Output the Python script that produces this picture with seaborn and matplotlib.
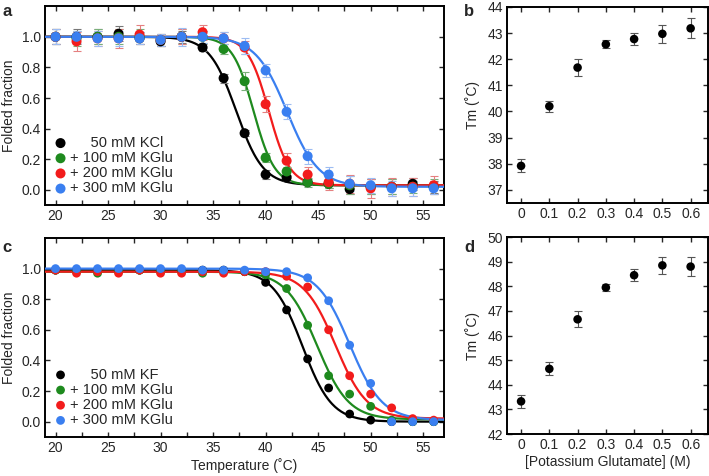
import numpy as np
import pandas as pd
import matplotlib
matplotlib.use('Agg')
import matplotlib.pyplot as plt
from matplotlib.ticker import MultipleLocator
import seaborn as sns

# Temperatures sampled (deg C)
temps = [20, 22, 24, 26, 28, 30, 32, 34, 36, 38, 40, 42, 44, 46, 48, 50, 52, 54, 56]

# Panel a: folded fraction, KCl background
a_labels = ['     50 mM KCl', '+ 100 mM KGlu', '+ 200 mM KGlu', '+ 300 mM KGlu']
a_black = [1.00, 1.00, 1.00, 1.02, 0.99, 0.97, 1.00, 0.93, 0.73, 0.37, 0.10, 0.08, 0.05, 0.04, 0.005, 0.02, 0.02, 0.04, 0.02]
a_green = [1.00, 0.99, 1.00, 1.00, 1.00, 0.98, 1.00, 1.00, 0.92, 0.71, 0.21, 0.12, 0.05, 0.04, 0.03, 0.02, 0.02, 0.02, 0.02]
a_red = [1.00, 0.97, 0.99, 0.99, 1.015, 0.98, 1.00, 1.03, 0.99, 0.93, 0.56, 0.19, 0.10, 0.05, 0.04, 0.01, 0.02, 0.02, 0.03]
a_blue = [1.00, 1.00, 0.99, 0.99, 0.99, 0.98, 1.00, 1.00, 0.99, 0.94, 0.78, 0.51, 0.22, 0.10, 0.04, 0.03, 0.01, 0.01, 0.01]
a_err_black = [0.05, 0.05, 0.05, 0.05, 0.04, 0.03, 0.04, 0.02, 0.03, 0.02, 0.03, 0.02, 0.02, 0.03, 0.03, 0.05, 0.05, 0.04, 0.04]
a_err_green = [0.05, 0.05, 0.05, 0.05, 0.05, 0.04, 0.05, 0.04, 0.03, 0.06, 0.03, 0.03, 0.03, 0.03, 0.06, 0.05, 0.05, 0.04, 0.05]
a_err_red = [0.05, 0.06, 0.05, 0.06, 0.065, 0.04, 0.05, 0.05, 0.04, 0.04, 0.05, 0.05, 0.05, 0.05, 0.06, 0.06, 0.06, 0.06, 0.06]
a_err_blue = [0.05, 0.04, 0.05, 0.05, 0.04, 0.04, 0.06, 0.04, 0.04, 0.05, 0.04, 0.05, 0.05, 0.05, 0.05, 0.05, 0.05, 0.05, 0.04]

# Panel c: folded fraction, KF background
c_labels = ['     50 mM KF', '+ 100 mM KGlu', '+ 200 mM KGlu', '+ 300 mM KGlu']
c_black = [0.99, 0.99, 0.99, 0.99, 0.99, 0.99, 0.99, 0.99, 0.99, 0.98, 0.91, 0.73, 0.41, 0.22, 0.05, 0.01, 0.00, 0.00, 0.00]
c_green = [0.99, 0.98, 0.97, 0.98, 0.99, 0.98, 0.98, 0.97, 0.98, 0.98, 0.96, 0.87, 0.63, 0.30, 0.18, 0.10, 0.01, 0.00, 0.00]
c_red = [0.99, 0.97, 0.98, 0.97, 0.99, 0.97, 0.97, 0.98, 0.97, 0.98, 0.98, 0.95, 0.88, 0.60, 0.30, 0.18, 0.09, 0.02, 0.01]
c_blue = [1.00, 1.00, 1.00, 1.00, 1.00, 1.00, 1.00, 0.99, 0.99, 0.99, 0.98, 0.98, 0.94, 0.79, 0.50, 0.25, 0.00, 0.00, 0.00]

# Fit parameters: Tm, width, top, bottom
a_fits = [(37.2, 1.28, 1.0, 0.03), (38.85, 1.0, 1.0, 0.03), (40.3, 1.0, 1.0, 0.03), (42.05, 1.5, 1.0, 0.02)]
c_fits = [(43.5, 1.4, 0.99, 0.0), (44.9, 1.5, 0.98, 0.015), (46.65, 1.5, 0.98, 0.02), (48.0, 1.55, 1.0, 0.01)]

# Panels b, d: Tm vs potassium glutamate
kglu = [0, 0.1, 0.2, 0.3, 0.4, 0.5, 0.6]
b_tm = [37.92, 40.2, 41.68, 42.57, 42.77, 42.97, 43.18]
b_err = [0.25, 0.22, 0.33, 0.16, 0.23, 0.35, 0.38]
d_tm = [43.33, 44.65, 46.66, 47.95, 48.45, 48.85, 48.8]
d_err = [0.27, 0.27, 0.33, 0.15, 0.24, 0.34, 0.39]

colors = ['black', '#1e8a1e', '#f21c1c', '#3a7ff0']
err_colors = ['#777777', '#7ab07a', '#e58080', '#9dbcf2']

sns.set_style('ticks')
plt.rcParams['font.family'] = ['Liberation Sans', 'DejaVu Sans']
plt.rcParams['font.size'] = 10
plt.rcParams['axes.linewidth'] = 1.4


def boltz(t, tm, w, top, bot):
    return bot + (top - bot) / (1 + np.exp((t - tm) / w))


def style_axes(ax):
    ax.tick_params(which='both', direction='in', top=True, right=True, length=3.5, width=1, labelsize=10, pad=3)
    for s in ax.spines.values():
        s.set_linewidth(1.4)
        s.set_color('black')


def melt_panel(ax, series, labels, fits, errs=None, size=52):
    tgrid = np.linspace(19, 57, 400)
    for i, (ys, lab, fit) in enumerate(zip(series, labels, fits)):
        sns.lineplot(x=tgrid, y=boltz(tgrid, *fit), color=colors[i], lw=1.6, ax=ax, zorder=2 + i)
    for i, (ys, lab) in enumerate(zip(series, labels)):
        if errs is not None:
            ax.errorbar(temps, ys, yerr=errs[i], fmt='none', ecolor=err_colors[i], elinewidth=0.8, capsize=3, capthick=0.8, zorder=6 + i)
        sns.scatterplot(x=temps, y=ys, color=colors[i], s=size, edgecolor='none', label=lab, ax=ax, zorder=10 + i)
    ax.set_xlim(19, 57)
    ax.set_ylim(-0.1, 1.2)
    ax.xaxis.set_major_locator(MultipleLocator(5))
    ax.xaxis.set_minor_locator(MultipleLocator(2.5))
    ax.set_yticks([0.0, 0.2, 0.4, 0.6, 0.8, 1.0])
    ax.set_yticklabels(['0.0', '0.2', '0.4', '0.6', '0.8', '1.0'])
    ax.set_ylabel('Folded fraction', fontsize=10, labelpad=4)
    style_axes(ax)
    ax.legend(loc='lower left', bbox_to_anchor=(-0.005, 0.005), frameon=False, fontsize=10.5,
              handletextpad=0.05, labelspacing=0.08, borderaxespad=0.2, markerscale=1.0, handlelength=1.2)


def tm_panel(ax, ys, err, ylim):
    ax.errorbar(kglu, ys, yerr=err, fmt='none', ecolor='#555555', elinewidth=0.8, capsize=3, capthick=0.8, zorder=2)
    sns.scatterplot(x=kglu, y=ys, color='black', s=38, edgecolor='none', ax=ax, zorder=3)
    ax.set_xlim(-0.05, 0.66)
    ax.set_ylim(*ylim)
    ax.set_xticks(kglu)
    ax.set_xticklabels(['0', '0.1', '0.2', '0.3', '0.4', '0.5', '0.6'])
    ax.set_ylabel('Tm (˚C)', fontsize=10, labelpad=5)
    style_axes(ax)


fig = plt.figure(figsize=(7.09, 4.76), dpi=100)
ax_a = fig.add_axes([0.0635, 0.569, 0.563, 0.418])
ax_b = fig.add_axes([0.715, 0.5735, 0.283, 0.412])
ax_c = fig.add_axes([0.0635, 0.082, 0.563, 0.418])
ax_d = fig.add_axes([0.715, 0.088, 0.283, 0.414])

melt_panel(ax_a, [a_black, a_green, a_red, a_blue], a_labels, a_fits,
           errs=[a_err_black, a_err_green, a_err_red, a_err_blue], size=52)
melt_panel(ax_c, [c_black, c_green, c_red, c_blue], c_labels, c_fits, size=40)
ax_c.set_xlabel('Temperature (˚C)', fontsize=10, labelpad=2)

tm_panel(ax_b, b_tm, b_err, (36.5, 44))
ax_b.set_yticks(range(37, 45))
tm_panel(ax_d, d_tm, d_err, (42, 50))
ax_d.set_yticks(range(42, 51))
ax_d.set_xlabel('[Potassium Glutamate] (M)', fontsize=10, labelpad=2)

for lab, x, y in [('a', 0.004, 0.975), ('b', 0.655, 0.975), ('c', 0.004, 0.48), ('d', 0.655, 0.48)]:
    fig.text(x, y, lab, fontsize=12, fontweight='bold', va='center', ha='left')

fig.savefig('out.png', dpi=100)
